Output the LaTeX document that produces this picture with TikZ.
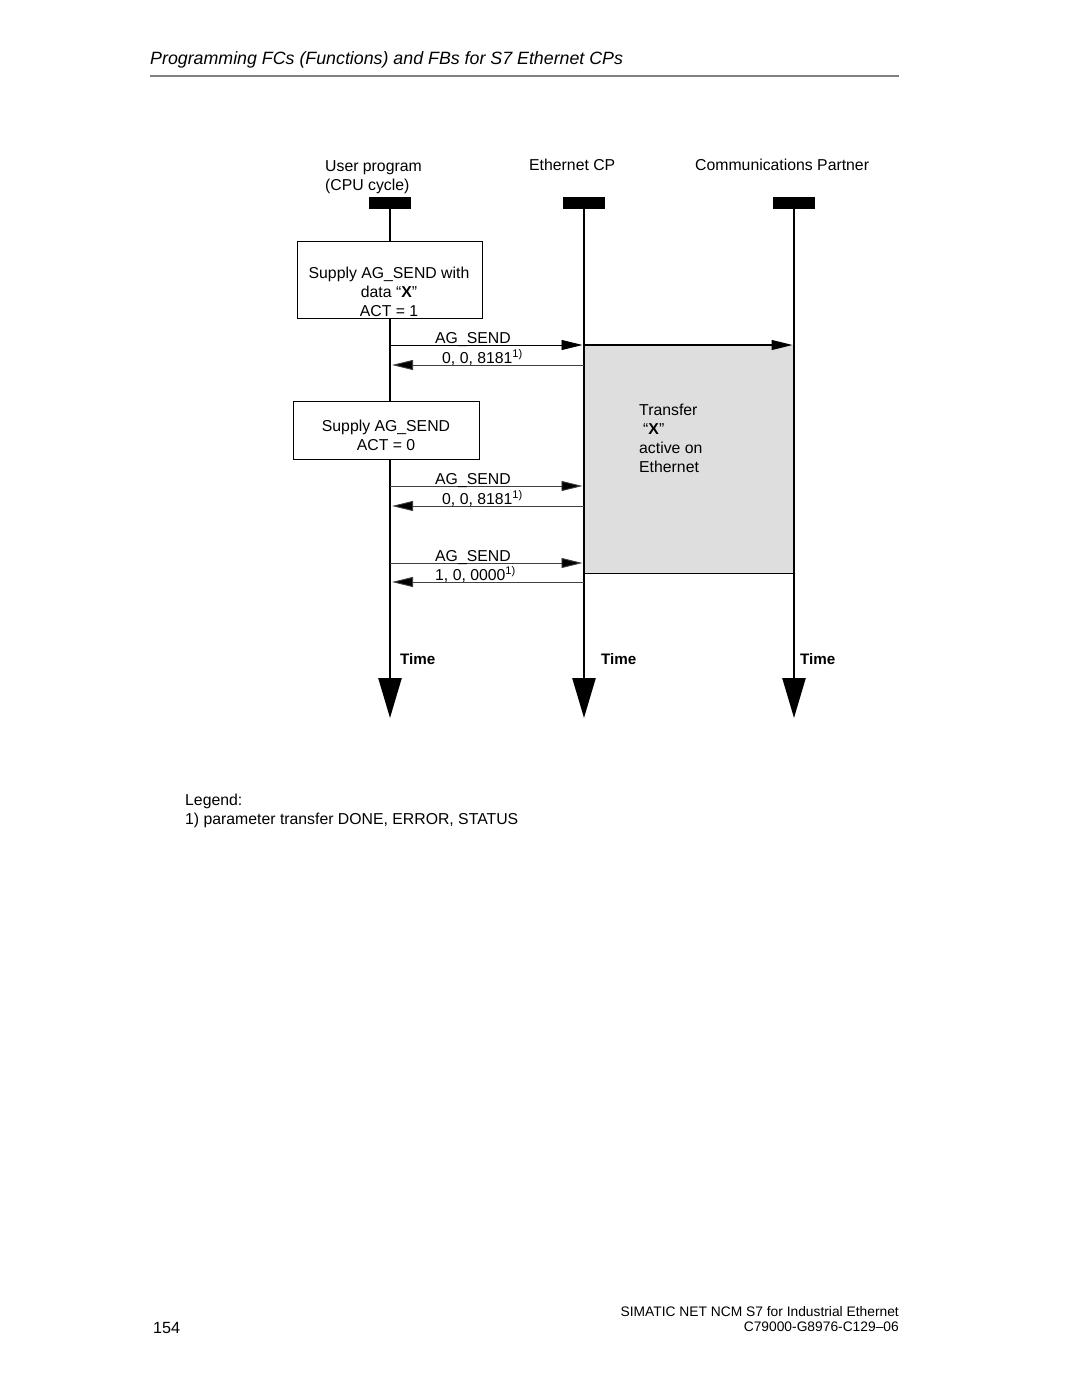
\documentclass[tikz,border=0pt]{standalone}
\usepackage{fontspec}
\setmainfont{Liberation Sans}
\usetikzlibrary{arrows.meta}
\definecolor{boxgray}{HTML}{DEDEDE}
\definecolor{rulegray}{HTML}{808080}
\begin{document}
\begin{tikzpicture}[x=1pt,y=-1pt,
  txt/.style={inner sep=0pt, font=\fontsize{15.8}{19}\selectfont},
  timelbl/.style={inner sep=0pt, anchor=base west, font=\fontsize{15.2}{18}\selectfont\bfseries},
  headbar/.style={fill=black, inner sep=0pt, minimum width=42pt, minimum height=12pt},
  lifeline/.style={line width=2.5pt, -{Triangle[length=40pt,width=23pt]}},
  msg/.style={line width=0.9pt, draw=black!75, -{Triangle[length=21pt,width=10pt,fill=black]}},
  procbox/.style={draw, line width=0.8pt, inner sep=0pt, anchor=north west},
]
\useasboundingbox (0,0) rectangle (1080,1397);

% header
\node[inner sep=0pt, anchor=base west, font=\fontsize{17.8}{20}\selectfont\itshape] (title) at (150,64)
  {Programming FCs (Functions) and FBs for S7 Ethernet CPs};
\coordinate (ruleL) at (150,76);
\coordinate (ruleR) at (899,76);
\draw[rulegray, line width=1.3pt] (ruleL) -- (ruleR);

% column headings (base = last line)
\node[txt, anchor=base west, align=left] (h1) at (325,190) {User program\\(CPU cycle)};
\node[txt, anchor=base west] (h2) at (529,170) {Ethernet CP};
\node[txt, anchor=base west] (h3) at (695,170) {Communications Partner};

% gray transfer box
\node[fill=boxgray, inner sep=0pt, anchor=north west, minimum width=210pt, minimum height=228pt] (gb) at (584,345) {};
\draw[line width=1.3pt] (gb.south west) -- (gb.south east);
\node[txt, anchor=base west, align=left] (gbt) at (639,472)
  {Transfer\\\hspace*{4pt}“\textbf{X}”\\active on\\Ethernet};

% lifelines
\node[headbar] (b1) at (390,203) {};
\node[headbar] (b2) at (584,203) {};
\node[headbar] (b3) at (794,203) {};
\coordinate (e1) at (390,718);
\coordinate (e2) at (584,718);
\coordinate (e3) at (794,718);
\draw[lifeline] (b1.south) -- (e1);
\draw[lifeline] (b2.south) -- (e2);
\draw[lifeline] (b3.south) -- (e3);

% process boxes
\node[procbox, minimum width=185pt, minimum height=77pt, fill=white] (p1) at (297,241) {};
\node[txt, anchor=base, align=center] (p1t) at (389,316) {Supply AG\_SEND with\\data “\textbf{X}”\\ACT = 1};
\node[procbox, minimum width=186pt, minimum height=58pt, fill=white] (p2) at (293,401) {};
\node[txt, anchor=base, align=center] (p2t) at (386,450) {Supply AG\_SEND\\ACT = 0};

% message coordinates
\foreach \n/\y in {1/345,2/365,3/486,4/506,5/563,6/582}{
  \coordinate (u\n) at (390,\y);
  \coordinate (c\n) at (584,\y);
}
\coordinate (p3a) at (794,345);

\draw[msg, draw=black, shorten >=1.5pt] (u1) -- (c1);
\draw[msg, draw=black, line width=1.2pt, shorten >=1.5pt] (c1) -- (p3a);
\draw[msg, shorten >=2pt] (c2) -- (u2);
\draw[msg, shorten >=1.5pt] (u3) -- (c3);
\draw[msg, shorten >=2pt] (c4) -- (u4);
\draw[msg, shorten >=1.5pt] (u5) -- (c5);
\draw[msg, shorten >=2pt] (c6) -- (u6);

% message labels
\node[txt, anchor=base west] (m1) at (435,343) {AG\_SEND};
\node[txt, anchor=base west] (m2) at (442,363) {0, 0, 8181\textsuperscript{1)}};
\node[txt, anchor=base west] (m3) at (435,484) {AG\_SEND};
\node[txt, anchor=base west] (m4) at (442,504) {0, 0, 8181\textsuperscript{1)}};
\node[txt, anchor=base west] (m5) at (435,561) {AG\_SEND};
\node[txt, anchor=base west] (m6) at (435,580) {1, 0, 0000\textsuperscript{1)}};

% time labels
\node[timelbl] (t1) at (400,664) {Time};
\node[timelbl] (t2) at (601,664) {Time};
\node[timelbl] (t3) at (800,664) {Time};

% legend
\node[txt, anchor=base west, align=left] (leg) at (185,824)
  {Legend:\\1) parameter transfer DONE, ERROR, STATUS};

% footer
\node[inner sep=0pt, anchor=base west, font=\fontsize{16.2}{19}\selectfont] (pg) at (153,1333) {154};
\node[inner sep=0pt, anchor=base east, align=right, font=\fontsize{13.8}{14.5}\selectfont] (ft) at (899,1331)
  {SIMATIC NET NCM S7 for Industrial Ethernet\\C79000-G8976-C129–06};
\end{tikzpicture}
\end{document}
